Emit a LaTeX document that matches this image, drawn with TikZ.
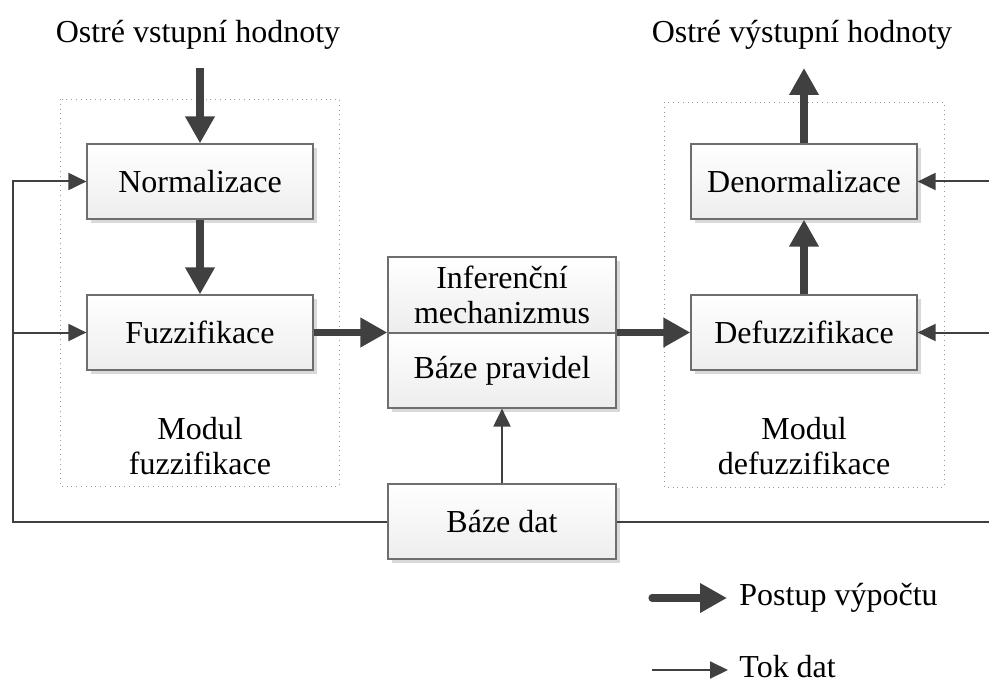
\documentclass[tikz,border=0pt]{standalone}
\usepackage{fontspec}
\setmainfont{Liberation Serif}
\usetikzlibrary{arrows.meta,shadows}
\definecolor{arrowgray}{HTML}{404040}
\definecolor{boxline}{HTML}{6E6E6E}
\tikzset{
  block/.style={draw=boxline, line width=0.6pt, top color=white, bottom color=gray!14,
    minimum width=113pt, minimum height=37.5pt, inner sep=0pt, align=center,
    font=\fontsize{16}{17.5}\selectfont,
    drop shadow={shadow xshift=2pt, shadow yshift=-2pt, fill=gray!30, opacity=1}},
  modul/.style={draw=gray!80, line width=0.4pt, dotted},
  label/.style={inner sep=0pt, align=center, font=\fontsize{16}{17.5}\selectfont},
  flow/.style={draw=arrowgray, line width=3.6pt, -{Triangle[length=13.5pt,width=14pt]}},
  data/.style={draw=arrowgray, line width=1pt, -{Triangle[length=9pt,width=8.5pt]}},
  dataline/.style={draw=arrowgray, line width=1pt}
}
\begin{document}
\begin{tikzpicture}[x=0.5pt,y=-0.5pt]
\useasboundingbox (0,0) rectangle (989,684);
\draw [modul] (60,99) rectangle (339,486);
\draw [modul] (664,102) rectangle (944,487);
\node (norm) [block] at (200,181.5) {Normalizace};
\node (fuzz) [block] at (200,332.5) {Fuzzifikace};
\node (infer) [block, minimum width=114pt, minimum height=38pt] at (502,295) {Inferenční\\mechanizmus};
\node (rules) [block, minimum width=114pt] at (502,370.5) {Báze pravidel};
\node (db) [block, minimum width=114pt] at (502,521.5) {Báze dat};
\node (denorm) [block] at (804,181.5) {Denormalizace};
\node (defuzz) [block] at (804,332.5) {Defuzzifikace};
\node (inlabel) [label, anchor=base] at (198,43) {Ostré vstupní hodnoty};
\node (outlabel) [label, anchor=base] at (802,43) {Ostré výstupní hodnoty};
\node (fmod) [label] at (200,446) {Modul\\fuzzifikace};
\node (dmod) [label] at (804,446) {Modul\\defuzzifikace};
\coordinate (in) at (200,68);
\coordinate (out) at (804,68);
\coordinate (lft) at (13,332.5);
\coordinate (rgt) at (992,332.5);
\draw [flow] (in) -- (norm.north);
\draw [flow] (norm.south) -- (fuzz.north);
\draw [flow] (fuzz.east) -- (fuzz.east -| infer.west);
\draw [flow] (defuzz.west -| infer.east) -- (defuzz.west);
\draw [flow] (defuzz.north) -- (denorm.south);
\draw [flow] (denorm.north) -- (out);
\draw [data] (db.north) -- (rules.south);
\draw [dataline] (db.west) -| (lft);
\draw [data] (lft) |- (norm.west);
\draw [data] (lft) -- (fuzz.west);
\draw [dataline] (db.east) -| (rgt);
\draw [data] (rgt) |- (denorm.east);
\draw [data] (rgt) -- (defuzz.east);
\coordinate (k1) at (652,598);
\coordinate (k2) at (727,598);
\coordinate (t1) at (652,670);
\coordinate (t2) at (728,670);
\draw [flow, line cap=round] (k1) -- (k2);
\draw [data] (t1) -- (t2);
\node (kflow) [label, anchor=base west] at (739,605) {Postup výpočtu};
\node (kdata) [label, anchor=base west] at (739,677) {Tok dat};
\end{tikzpicture}
\end{document}
